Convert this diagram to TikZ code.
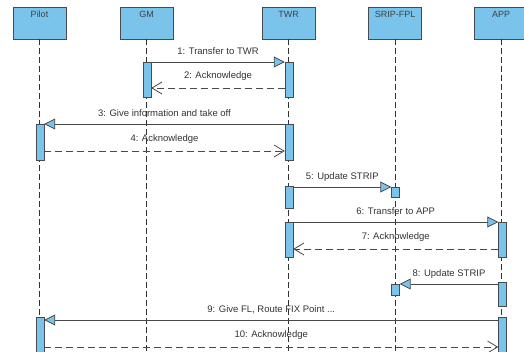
\documentclass[tikz,border=0pt]{standalone}
\usepackage{fontspec}
\setmainfont{Liberation Sans}
\usetikzlibrary{arrows.meta,positioning}
\definecolor{lifeblue}{RGB}{122,196,236}
\definecolor{edgegray}{RGB}{70,74,82}
\definecolor{msggray}{RGB}{72,72,72}

\begin{document}
\begin{tikzpicture}[x=1pt,y=-1pt,
head/.style={draw=edgegray,fill=lifeblue,minimum width=53pt,inner xsep=0pt,inner ysep=2pt,text height=9pt,text depth=19pt,font=\fontsize{9}{10}\selectfont,text=black!75},
act/.style={draw=edgegray,fill=lifeblue,minimum width=8pt,inner sep=0pt,anchor=north},
life/.style={draw=black!80,line width=0.6pt,dash pattern=on 6pt off 3pt},
sync/.style={draw=msggray,line width=0.8pt,-{Triangle[length=11pt,width=11pt,fill=lifeblue]}},
reply/.style={draw=msggray,line width=0.8pt,dash pattern=on 7pt off 4pt,-{Straight Barb[length=10pt,width=12pt]}},
lbl/.style={font=\fontsize{9.5}{11}\selectfont,text=black!80,inner sep=1pt,text height=7pt,text depth=2pt,above=4.5pt},
rlbl/.style={lbl,above=6pt}]
\useasboundingbox[fill=white] (0,0) rectangle (524,352);
\coordinate (bot) at (0,352);
% lifeline heads
\node[head] (pilot) at (39.5,23) {Pilot};
\node[head] (gm) at (146.5,23) {GM};
\node[head] (twr) at (288.5,23) {TWR};
\node[head] (srip) at (395,23) {SRIP-FPL};
\node[head] (app) at (501,23) {APP};
\foreach \n in {pilot,gm,twr,srip,app}
  \draw[life] (\n.south) -- (\n.south |- bot);
% activations
\node[act,minimum height=35pt] (gm1) at (147,62) {};
\node[act,minimum height=35pt] (twr1) at (289,62) {};
\node[act,minimum height=36pt] (pil1) at (40,124) {};
\node[act,minimum height=36pt] (twr2) at (289,124) {};
\node[act,minimum height=22pt] (twr3) at (289,186) {};
\node[act,minimum height=10pt] (srp1) at (395.5,187) {};
\node[act,minimum height=35pt] (twr4) at (289,222) {};
\node[act,minimum height=35pt] (app1) at (502.5,222) {};
\node[act,minimum height=24pt] (app2) at (502.5,282) {};
\node[act,minimum height=11pt] (srp2) at (395.5,284) {};
\node[act,minimum height=40pt] (pil2) at (40,317) {};
\node[act,minimum height=40pt] (app3) at (502.5,317) {};
% messages
\draw[sync] (gm1.north east) -- (twr1.north west) node[lbl,midway] (m1) {1: Transfer to TWR};
\draw[reply] ([yshift=-26pt]twr1.north west) -- ([yshift=-26pt]gm1.north east) node[rlbl,midway] (m2) {2: Acknowledge};
\draw[sync] (twr2.north west) -- (pil1.north east) node[lbl,midway] (m3) {3: Give information and take off};
\draw[reply] ([yshift=-27pt]pil1.north east) -- ([yshift=-27pt]twr2.north west) node[rlbl,midway] (m4) {4: Acknowledge};
\draw[sync] (twr3.east |- srp1.north) -- (srp1.north west) node[lbl,midway] (m5) {5: Update STRIP};
\draw[sync] (twr4.north east) -- (app1.north west) node[lbl,midway] (m6) {6: Transfer to APP};
\draw[reply] ([yshift=-27pt]app1.north west) -- ([yshift=-27pt]twr4.north east) node[rlbl,midway] (m7) {7: Acknowledge};
\draw[sync] (app2.west |- srp2.north) -- (srp2.north east) node[lbl,midway] (m8) {8: Update STRIP};
\draw[sync] ([yshift=-3pt]app3.north west) -- ([yshift=-3pt]pil2.north east) node[lbl,midway] (m9) {9: Give FL, Route FIX Point ...};
\draw[reply] ([yshift=-30pt]pil2.north east) -- ([yshift=-30pt]app3.north west) node[rlbl,midway] (m10) {10: Acknowledge};
\end{tikzpicture}
\end{document}
